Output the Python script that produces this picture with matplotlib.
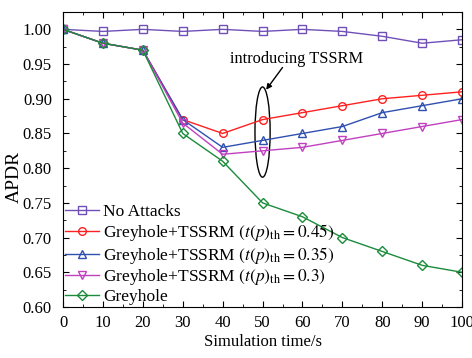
import matplotlib
matplotlib.use("Agg")
import matplotlib.pyplot as plt
from matplotlib.patches import Ellipse
from matplotlib.ticker import AutoMinorLocator

plt.rcParams['font.family'] = ['Liberation Serif', 'DejaVu Serif']
plt.rcParams['mathtext.fontset'] = 'stix'

t = [0, 10, 20, 30, 40, 50, 60, 70, 80, 90, 100]
no_attacks = [1.0, 0.997, 1.0, 0.997, 1.0, 0.997, 1.0, 0.997, 0.99, 0.98, 0.985]
tssrm_045 = [1.0, 0.98, 0.97, 0.87, 0.85, 0.87, 0.88, 0.89, 0.90, 0.905, 0.91]
tssrm_035 = [1.0, 0.98, 0.97, 0.87, 0.83, 0.84, 0.85, 0.86, 0.88, 0.89, 0.90]
tssrm_03 = [1.0, 0.98, 0.97, 0.865, 0.82, 0.825, 0.83, 0.84, 0.85, 0.86, 0.87]
greyhole = [1.0, 0.98, 0.97, 0.85, 0.81, 0.75, 0.73, 0.70, 0.68, 0.66, 0.65]

fig = plt.figure(figsize=(4.72, 3.58), dpi=100)
ax = fig.add_axes([0.1335, 0.1425, 0.8455, 0.824])

lw = 1.0
ms = 5.5
ax.plot(t, no_attacks, color='#7050b8', marker='s', mfc='none', ms=ms, lw=lw, label='No Attacks')
ax.plot(t, tssrm_045, color='#ff2020', marker='o', mfc='none', ms=ms, lw=lw,
        label=r'Greyhole+TSSRM $\left(t\left(p\right)_{\rm th}=0.45\right)$')
ax.plot(t, tssrm_035, color='#3050b0', marker='^', mfc='none', ms=ms, lw=lw,
        label=r'Greyhole+TSSRM $\left(t\left(p\right)_{\rm th}=0.35\right)$')
ax.plot(t, tssrm_03, color='#c040c0', marker='v', mfc='none', ms=ms, lw=lw,
        label=r'Greyhole+TSSRM $\left(t\left(p\right)_{\rm th}=0.3\right)$')
ax.plot(t, greyhole, color='#1a8c3a', marker='D', mfc='none', ms=5, lw=lw, label='Greyhole')

ax.add_patch(Ellipse((50, 0.852), 3.8, 0.13, fill=False, ec='black', lw=1.0))
ax.text(58.6, 0.957, 'introducing TSSRM', ha='center', va='center', fontsize=11.8)
ax.annotate('', xy=(50.9, 0.913), xytext=(55.0, 0.945),
            arrowprops=dict(arrowstyle='-|>', color='black', lw=1.0, shrinkA=0, shrinkB=0,
                            mutation_scale=8))

ax.set_xlim(0, 100)
ax.set_ylim(0.6, 1.025)
ax.set_xticks(t)
ax.set_yticks([0.60, 0.65, 0.70, 0.75, 0.80, 0.85, 0.90, 0.95, 1.00])
ax.yaxis.set_major_formatter(plt.FormatStrFormatter('%.2f'))
ax.xaxis.set_minor_locator(AutoMinorLocator(2))
ax.yaxis.set_minor_locator(AutoMinorLocator(2))
ax.tick_params(which='both', direction='in', labelsize=12, top=True, right=True)
ax.tick_params(which='major', length=4)
ax.tick_params(which='minor', length=2)
ax.tick_params(axis='y', which='major', pad=8)
ax.tick_params(axis='x', which='major', pad=6)
ax.set_xlabel('Simulation time/s', fontsize=12)
ax.set_ylabel('APDR', fontsize=14)
ax.xaxis.set_label_coords(0.5, -0.09)
ax.yaxis.set_label_coords(-0.1, 0.44)

ax.legend(loc='lower left', frameon=False, fontsize=12.5, handlelength=2.0,
          labelspacing=0.1, borderaxespad=0.0, borderpad=0.1, handletextpad=0.2)

fig.savefig('out.png', dpi=100)
